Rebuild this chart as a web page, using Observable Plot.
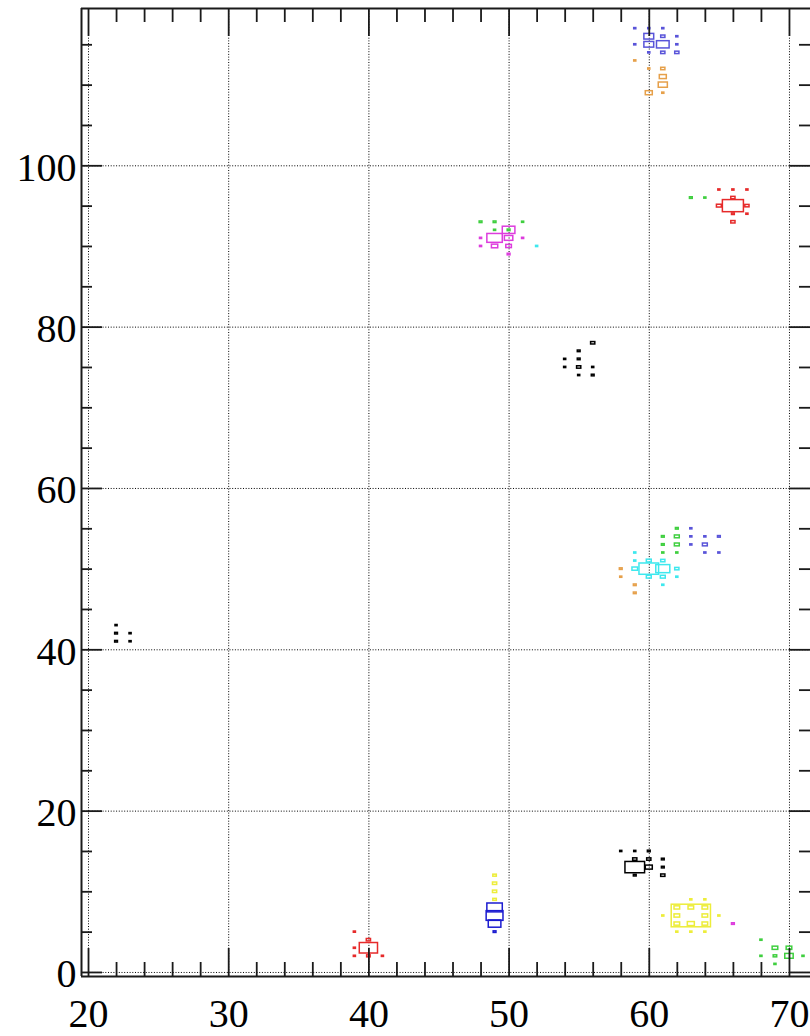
<!DOCTYPE html>
<html><head><meta charset="utf-8">
<script src="https://cdn.jsdelivr.net/npm/d3@7"></script>
<script src="https://cdn.jsdelivr.net/npm/@observablehq/plot@0.6"></script>
<style>html,body{margin:0;padding:0;background:#fff;overflow:hidden}</style>
</head><body><div id="chart"></div>
<script>
// ---- axis ticks ----
const xMajor = [20, 30, 40, 50, 60, 70];
const xMinor = [22, 24, 26, 28, 32, 34, 36, 38, 42, 44, 46, 48, 52, 54, 56, 58, 62, 64, 66, 68];
const yMajor = [0, 20, 40, 60, 80, 100];
const yMinor = [5, 10, 15, 25, 30, 35, 45, 50, 55, 65, 70, 75, 85, 90, 95, 105, 110, 115];
const xLabels = ["20", "30", "40", "50", "60", "70"];
const yLabels = ["0", "20", "40", "60", "80", "100"];

// ---- bins: [x, y, content] ----
const purpleBins = [
  [59,117,1.5],[60,117,1.5],[61,117,1.5],
  [60,116,7],[61,116,3],[62,116,1.5],
  [59,115,1.5],[60,115,7],[61,115,9],[62,115,1.5],
  [60,114,1.5],[61,114,3],[62,114,3],
  [63,55,1.5],[63,54,1.5],[64,54,1.5],[65,54,2],[63,53,1.5],[64,53,3.5],[64,52,1.5],[65,52,1.5]
];
const orangeBins = [
  [59,113,1.5],[60,112,1.5],[61,112,3],[61,111,5],[61,110,6.5],[60,109,5],[61,109,1.5],
  [58,50,2],[58,49,1.5],[59,48,2],[59,47,2]
];
const redBins = [
  [65,97,1.5],[66,97,1.5],[67,97,1.5],[66,96,3],[65,95,3.5],[66,95,15],[67,95,3],
  [66,94,2],[67,94,1.5],[66,93,3],
  [39,5,1.5],[40,4,3],[39,3,1.5],[40,3,13],[39,2,1.5],[40,2,2.5],[41,2,1.5]
];
const greenBins = [
  [63,96,2],[64,96,1.5],
  [48,93,2],[49,93,2],[51,93,1.5],[49,92,1.5],[50,92,2],
  [62,55,2],[61,54,2],[62,54,3.5],[61,53,2],[62,53,3.5],[61,52,1.5],[62,52,1.5],
  [68,4,1.5],[68,2,1.5],[69,3,4],[70,3,4],[69,2,2.5],[70,2,6],[71,2,1.5],[69,1,1.5]
];
const magentaBins = [
  [50,92,9],[48,91,1.5],[49,91,11],[50,91,6],[51,91,1.5],[48,90,1.5],[49,90,4.5],[50,90,4],[50,89,2],
  [66,6,2]
];
const cyanBins = [
  [52,90,1.5],
  [59,52,1.5],[59,51,1.5],[60,51,3.5],[61,51,3],[59,50,4],[60,50,14],[61,50,10],[62,50,3],
  [60,49,3.5],[61,49,3.5],[62,49,1.5],[61,48,1.5]
];
const blackBins = [
  [56,78,3],[55,77,2],[55,76,2],[54,76,1.5],[54,75,1.5],[55,75,3],[56,75,1.5],[55,74,1.5],[56,74,2],
  [22,43,1.5],[22,42,2],[22,41,2],[23,42,1.5],[23,41,1.5],
  [58,15,1.5],[59,15,1.5],[60,15,2],[59,14,3],[60,14,3],[61,14,2],[59,13,14],[60,13,5],[61,13,2],[59,12,2],[61,12,3]
];
const yellowBins = [
  [63,9,1.5],[64,9,1.5],[62,8,4],[63,8,4],[64,8,4],[61,7,1.5],[62,7,4],[63,7,28],[64,7,4],[65,7,1.5],
  [62,6,4],[63,6,5],[64,6,4],[62,5,1.5],[63,5,1.5],[64,5,1.5],
  [49,12,2.5],[49,11,3],[49,10,3],[49,9,2.5]
];
const blueBins = [[49,8,11],[49,7,12],[49,6,9],[49,5,2]];

const series = [
  {bins: blackBins, color: "#000000"},
  {bins: redBins, color: "#e62a2a"},
  {bins: greenBins, color: "#3fcf3f"},
  {bins: blueBins, color: "#1c1cd0"},
  {bins: yellowBins, color: "#eded3a"},
  {bins: magentaBins, color: "#dd3cdd"},
  {bins: cyanBins, color: "#3ee8ee"},
  {bins: purpleBins, color: "#5954d9"},
  {bins: orangeBins, color: "#e6a04a"}
];
const boxes = series.flatMap(s => s.bins.map(([x, y, n]) => ({x, y, n, color: s.color})));

const xDomain = [19.5, 71.5], yDomain = [-0.5, 119.5];
const W = 810, H = 1036, mL = 81, mT = 8, mB = 60, mR = 0;
const pxX = (W - mL - mR) / (xDomain[1] - xDomain[0]);
const pxY = (H - mT - mB) / (yDomain[1] - yDomain[0]);
const k = 0.1; // bin fraction per content unit
const xTickMaj = 28 / pxY, xTickMin = 14 / pxY, yTickMaj = 21 / pxX, yTickMin = 11 / pxX;
const axisColor = "#1a1a1a";
const font = "'Liberation Serif','Times New Roman',serif";

const chart = Plot.plot({
  width: W, height: H,
  marginLeft: mL, marginTop: mT, marginBottom: mB, marginRight: mR,
  x: {domain: xDomain, axis: null},
  y: {domain: yDomain, axis: null},
  style: {background: "#fff", overflow: "visible"},
  marks: [
    // grid
    Plot.ruleX(xMajor, {x: d => d, stroke: "#000", strokeWidth: 1, strokeDasharray: "1,1.7"}),
    Plot.ruleY(yMajor, {y: d => d, stroke: "#000", strokeWidth: 1, strokeDasharray: "1,1.7"}),
    // boxes
    Plot.rect(boxes, {
      x1: d => d.x - d.n * k / 2, x2: d => d.x + d.n * k / 2,
      y1: d => d.y - d.n * k / 2, y2: d => d.y + d.n * k / 2,
      stroke: d => d.color, fill: "none", strokeWidth: 1.5
    }),
    // frame (left, top, bottom)
    Plot.ruleX([xDomain[0]], {x: d => d, stroke: axisColor, strokeWidth: 2}),
    Plot.ruleY([yDomain[0], yDomain[1]], {y: d => d, stroke: axisColor, strokeWidth: 2}),
    // x ticks bottom & top
    Plot.ruleX(xMajor, {x: d => d, y1: yDomain[0], y2: yDomain[0] + xTickMaj, stroke: axisColor, strokeWidth: 1.8}),
    Plot.ruleX(xMinor, {x: d => d, y1: yDomain[0], y2: yDomain[0] + xTickMin, stroke: axisColor, strokeWidth: 1.8}),
    Plot.ruleX(xMajor, {x: d => d, y1: yDomain[1], y2: yDomain[1] - xTickMaj, stroke: axisColor, strokeWidth: 1.8}),
    Plot.ruleX(xMinor, {x: d => d, y1: yDomain[1], y2: yDomain[1] - xTickMin, stroke: axisColor, strokeWidth: 1.8}),
    // y ticks left & right
    Plot.ruleY(yMajor, {y: d => d, x1: xDomain[0], x2: xDomain[0] + yTickMaj, stroke: axisColor, strokeWidth: 1.8}),
    Plot.ruleY(yMinor, {y: d => d, x1: xDomain[0], x2: xDomain[0] + yTickMin, stroke: axisColor, strokeWidth: 1.8}),
    Plot.ruleY(yMajor, {y: d => d, x1: xDomain[1], x2: xDomain[1] - yTickMaj, stroke: axisColor, strokeWidth: 1.8}),
    Plot.ruleY(yMinor, {y: d => d, x1: xDomain[1], x2: xDomain[1] - yTickMin, stroke: axisColor, strokeWidth: 1.8}),
    // labels
    Plot.text(xMajor, {x: d => d, text: (d, i) => xLabels[i], frameAnchor: "bottom", lineAnchor: "top", dy: 22, fontSize: 40, fontFamily: font, fill: "#000"}),
    Plot.text(yMajor, {y: d => d, text: (d, i) => yLabels[i], frameAnchor: "left", textAnchor: "end", dx: -5, dy: 2, fontSize: 40, fontFamily: font, fill: "#000"})
  ]
});
document.getElementById("chart").appendChild(chart);
</script></body></html>
